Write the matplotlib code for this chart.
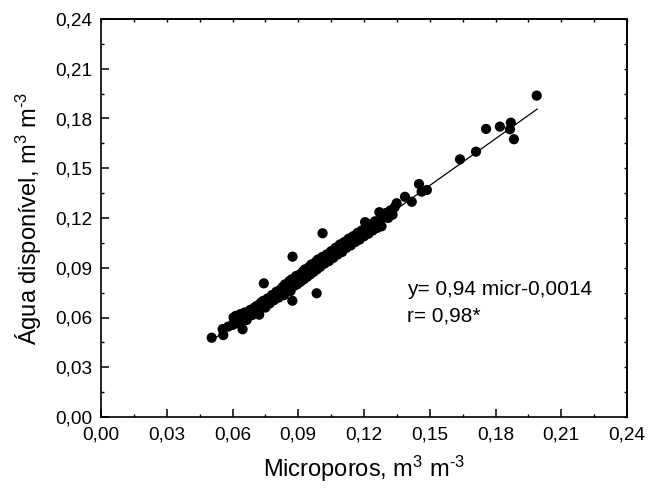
import matplotlib
matplotlib.use("Agg")
import matplotlib.pyplot as plt
import numpy as np

plt.rcParams['font.family'] = ['Liberation Sans', 'DejaVu Sans']
plt.rcParams['mathtext.fontset'] = 'custom'
plt.rcParams['mathtext.rm'] = 'Liberation Sans'
plt.rcParams['mathtext.it'] = 'Liberation Sans'
plt.rcParams['mathtext.bf'] = 'Liberation Sans'

# Data: microporos (x) and água disponível (y), m3 m-3
micro = [
    0.0505, 0.0555, 0.0558, 0.0646, 0.0722, 0.0743, 0.0873, 0.0874, 0.0984, 0.1011,
    0.0580, 0.0600, 0.0605, 0.0610, 0.0615, 0.0620, 0.0625, 0.0630, 0.0635, 0.0640,
    0.0650, 0.0655, 0.0660, 0.0670, 0.0680, 0.0690, 0.0700, 0.0710, 0.0720, 0.0730,
    0.0740, 0.0750, 0.0760, 0.0770, 0.0780, 0.0790, 0.0800, 0.0810, 0.0820, 0.0830,
    0.0835, 0.0840, 0.0850, 0.0860, 0.0865, 0.0870, 0.0880, 0.0890, 0.0895, 0.0900,
    0.0910, 0.0920, 0.0925, 0.0930, 0.0940, 0.0950, 0.0955, 0.0960, 0.0970, 0.0980,
    0.0985, 0.0990, 0.1000, 0.1010, 0.1020, 0.1030, 0.1040, 0.1050, 0.1060, 0.1070,
    0.1080, 0.1090, 0.1100, 0.1110, 0.1120, 0.1130, 0.1140, 0.1150, 0.1160, 0.1170,
    0.1180, 0.1190, 0.1200, 0.1205, 0.1210, 0.1220, 0.1230, 0.1240, 0.1250, 0.1260,
    0.1270, 0.1275, 0.1280, 0.1290, 0.1300, 0.1310, 0.1320, 0.1330, 0.1340,
    0.0665, 0.0705, 0.0745, 0.0785, 0.0815, 0.0845, 0.0875, 0.0905, 0.0935, 0.0965,
    0.0995, 0.1025, 0.1055, 0.1085, 0.1115, 0.1145, 0.1175, 0.1235, 0.1265,
    0.1349, 0.1387, 0.1418, 0.1451, 0.1463, 0.1487, 0.1638, 0.1711, 0.1757, 0.1820,
    0.1866, 0.1870, 0.1884, 0.1988,
]
agua = [
    0.0478, 0.0530, 0.0494, 0.0529, 0.0617, 0.0806, 0.0701, 0.0967, 0.0746, 0.1108,
    0.0545, 0.0555, 0.0600, 0.0580, 0.0610, 0.0565, 0.0605, 0.0585, 0.0620, 0.0575,
    0.0600, 0.0630, 0.0595, 0.0610, 0.0645, 0.0615, 0.0660, 0.0670, 0.0640, 0.0690,
    0.0700, 0.0660, 0.0715, 0.0685, 0.0735, 0.0705, 0.0755, 0.0720, 0.0770, 0.0785,
    0.0735, 0.0800, 0.0770, 0.0820, 0.0760, 0.0830, 0.0790, 0.0850, 0.0800, 0.0855,
    0.0815, 0.0875, 0.0830, 0.0890, 0.0845, 0.0905, 0.0860, 0.0920, 0.0875, 0.0935,
    0.0890, 0.0950, 0.0905, 0.0965, 0.0925, 0.0980, 0.0940, 0.1000, 0.0960, 0.1020,
    0.0980, 0.1040, 0.0995, 0.1055, 0.1020, 0.1075, 0.1035, 0.1090, 0.1055, 0.1110,
    0.1070, 0.1125, 0.1090, 0.1175, 0.1140, 0.1105, 0.1160, 0.1125, 0.1180, 0.1140,
    0.1235, 0.1190, 0.1150, 0.1210, 0.1230, 0.1200, 0.1245, 0.1220, 0.1265,
    0.0585, 0.0630, 0.0680, 0.0710, 0.0740, 0.0765, 0.0800, 0.0825, 0.0865, 0.0895,
    0.0920, 0.0950, 0.0985, 0.1010, 0.1035, 0.1070, 0.1100, 0.1150, 0.1175,
    0.1289, 0.1328, 0.1298, 0.1405, 0.1359, 0.1369, 0.1554, 0.1600, 0.1737, 0.1751,
    0.1735, 0.1775, 0.1675, 0.1938,
]

# Regression: y = 0.94 micr - 0.0014
slope = 0.94
intercept = -0.0014
fit_range = [0.050, 0.199]

ticks = [0.00, 0.03, 0.06, 0.09, 0.12, 0.15, 0.18, 0.21, 0.24]
tick_labels = ['0,00', '0,03', '0,06', '0,09', '0,12', '0,15', '0,18', '0,21', '0,24']

fig = plt.figure(figsize=(6.49, 4.90), dpi=100)
ax = fig.add_axes([101/649, 1 - 417/490, (627-101)/649, (417-19)/490])

ax.scatter(micro, agua, s=54, color='black', edgecolors='none', zorder=3)
fx = np.array(fit_range)
ax.plot(fx, slope * fx + intercept, color='black', lw=0.9, zorder=4)

ax.set_xlim(0, 0.24)
ax.set_ylim(0, 0.24)
ax.set_xticks(ticks)
ax.set_xticklabels(tick_labels)
ax.set_yticks(ticks)
ax.set_yticklabels(tick_labels)
ax.set_xticks(np.arange(0.015, 0.24, 0.03), minor=True)
ax.set_yticks(np.arange(0.015, 0.24, 0.03), minor=True)
ax.tick_params(which='major', direction='in', length=6, width=1.1, labelsize=13.7,
               top=False, right=False, pad=6.5)
ax.tick_params(which='minor', direction='in', length=2.5, width=1.0, top=False, right=False)

all_t = np.arange(0, 0.2401, 0.015)
secx = ax.secondary_xaxis('top')
secx.set_xticks(all_t)
secx.tick_params(direction='in', length=2.5, width=1.0, labeltop=False)
secy = ax.secondary_yaxis('right')
secy.set_yticks(all_t)
secy.tick_params(direction='in', length=2.5, width=1.0, labelright=False)
for sp in list(ax.spines.values()) + list(secx.spines.values()) + list(secy.spines.values()):
    sp.set_linewidth(1.2)

ax.set_xlabel('Microporos, m$^{3}$ m$^{\\text{-}3}$', fontsize=17, labelpad=8)
ax.set_ylabel('Água disponível, m$^{3}$ m$^{\\text{-}3}$', fontsize=17, labelpad=8)

ax.text(0.1395, 0.0736, 'y= 0,94 micr-0,0014', fontsize=15, ha='left', va='baseline')
ax.text(0.1395, 0.0575, 'r= 0,98*', fontsize=15, ha='left', va='baseline')

fig.savefig('out.png', dpi=100)
